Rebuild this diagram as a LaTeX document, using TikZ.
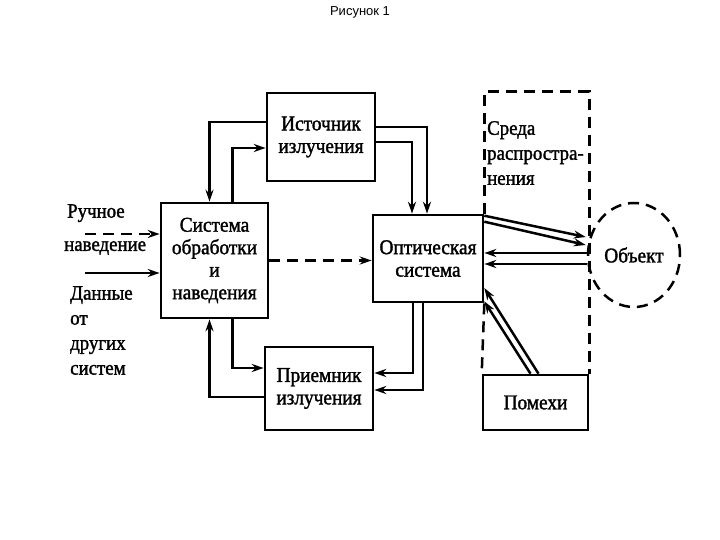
\documentclass[tikz,border=0pt]{standalone}
\usepackage{fontspec}
\setmainfont{Liberation Serif}[FakeStretch=0.92,FakeBold=1.5]
\newfontfamily\titlefont{Liberation Sans}
\usetikzlibrary{arrows.meta,shapes.geometric}

\begin{document}
\begin{tikzpicture}[x=1pt,y=-1pt,
	blok/.style={draw,line width=2.6pt,align=center,inner sep=0pt,font=\fontsize{21}{22.5}\selectfont},
	lin/.style={line width=2.5pt},
	arr/.style={lin,-{Stealth[length=12pt,width=8pt]}},
	shtrih/.style={line width=2.5pt,dash pattern=on 11pt off 7pt},
	txt/.style={align=left,inner sep=0pt,font=\fontsize{20.5}{25}\selectfont}]
	\useasboundingbox (0,0) rectangle (720,540);
	\node[font=\titlefont\fontsize{13}{15}\selectfont] (titul) at (360,12) {Рисунок 1};
	\node[blok,minimum width=108,minimum height=88] (ist) at (321,137) {Источник\\излучения};
	\node[blok,minimum width=107,minimum height=115] (sys) at (214.5,260.5) {Система\\обработки\\и\\наведения};
	\node[blok,minimum width=110,minimum height=87] (opt) at (428,258.5) {Оптическая\\система};
	\node[blok,minimum width=108,minimum height=83] (pri) at (319,388.5) {Приемник\\излучения};
	\node[blok,minimum width=105,minimum height=55] (pom) at (535.5,402.5) {Помехи};
	\node[blok,ellipse,shtrih,minimum width=92,minimum height=104] (obj) at (634,255) {Объект};
	\draw[shtrih] (opt.north east) -- ++(0,-122) -| (pom.north east);
	\draw[shtrih] (opt.south east) -- (pom.north west);
	\node[txt,anchor=north west] (sreda) at (487,121) {Среда\\распростра-\\нения};
	\node[txt,anchor=north west] (ruch) at (67,204) {Ручное};
	\node[txt,anchor=north west] (naved) at (64,241) {наведение};
	\node[txt,anchor=north west] (dann) at (70,286) {Данные\\от\\других\\систем};
	\coordinate (r1) at (85,234);
	\coordinate (r2) at (85,273);
	\draw[arr,shtrih] (r1) -- (r1 -| sys.west);
	\draw[arr] (r2) -- (r2 -| sys.west);
	\draw[arr] ([yshift=15pt]ist.west) -| ([xshift=-5pt]sys.north);
	\draw[arr] ([xshift=18pt]sys.north) |- ([yshift=-11pt]ist.west);
	\draw[arr] ([yshift=10pt]ist.east) -| ([xshift=-1pt]opt.north);
	\draw[arr] ([yshift=-5pt]ist.east) -| ([xshift=-16pt]opt.north);
	\draw[arr,shtrih] (sys.east) -- (sys.east -| opt.west);
	\draw[arr] ([xshift=18pt]sys.south) |- ([yshift=20.5pt]pri.west);
	\draw[arr] ([yshift=-8.5pt]pri.west) -| ([xshift=-5pt]sys.south);
	\draw[arr] ([xshift=-15pt]opt.south) |- ([yshift=15.5pt]pri.east);
	\draw[arr] ([xshift=-5pt]opt.south) |- ([yshift=-1.5pt]pri.east);
	\draw[arr] ([yshift=-2pt]opt.north east) -- ([xshift=-1pt,yshift=18pt]obj.west);
	\draw[arr] ([yshift=-8pt]opt.north east) -- ([xshift=-1pt,yshift=10pt]obj.west);
	\coordinate (o1) at ([yshift=2pt]obj.west);
	\coordinate (o2) at ([yshift=-9pt]obj.west);
	\draw[arr] (o1) -- (o1 -| opt.east);
	\draw[arr] (o2) -- (o2 -| opt.east);
	\draw[arr] ([xshift=3pt]pom.north) -- ([yshift=-29.5pt]opt.east);
	\draw[arr] ([xshift=-5pt]pom.north) -- ([yshift=2pt]opt.south east);
\end{tikzpicture}
\end{document}
